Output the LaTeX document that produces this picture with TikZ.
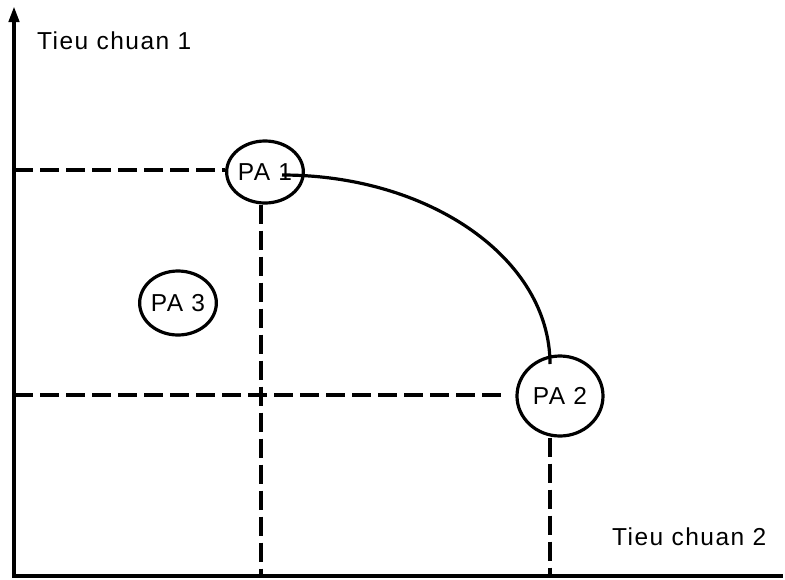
\documentclass[tikz,border=0pt]{standalone}
\usepackage{fontspec}
\setmainfont{Liberation Sans}[LetterSpace=6]
\usetikzlibrary{arrows.meta, shapes.geometric}

\begin{document}
\begin{tikzpicture}[x=1pt, y=-1pt,
        every node/.style={font=\fontsize{24.5}{28}\selectfont},
        option/.style={draw, ellipse, line width=3.2pt, inner sep=0pt},
        guide/.style={dash pattern=on 19pt off 7pt, line width=3.2pt},
        axis/.style={line width=4pt}]
    \useasboundingbox (0,0) rectangle (785,579);

    \coordinate (O)    at (14, 576);
    \coordinate (ytop) at (14, 6);
    \coordinate (xend) at (783, 576);
    \coordinate (p1)   at (261, 170);
    \coordinate (p2)   at (550, 395);
    \coordinate (front1) at (282, 175);
    \coordinate (front2) at (550, 364);

    \node[option, minimum width=74pt, minimum height=62pt] (pa1) at (265, 172) {PA 1};
    \node[option, minimum width=86pt, minimum height=80pt] (pa2) at (560, 396) {PA 2};
    \node[option, minimum width=74pt, minimum height=64pt] (pa3) at (178, 303) {PA 3};
    \node[anchor=base west, inner sep=0pt] (ylabel) at (37, 49)   {Tieu chuan 1};
    \node[anchor=base west, inner sep=0pt] (xlabel) at (612, 545) {Tieu chuan 2};

    % axes
    \draw[axis, {Triangle[width=10pt, length=16pt]}-] (ytop) -- (O) -- (xend);

    % projections onto the axes
    \draw[guide] (O |- p1) -- (pa1.west |- p1);
    \draw[guide] (p1 |- pa1.south) -- (p1 |- O);
    \draw[guide] (O |- p2) -- ([xshift=-9pt]pa2.west |- p2);
    \draw[guide] (p2 |- pa2.south) -- (p2 |- O);

    % front between PA 1 and PA 2
    \draw[line width=3.2pt] (front1) .. controls (430, 175) and (550, 259) .. (front2);
\end{tikzpicture}
\end{document}
